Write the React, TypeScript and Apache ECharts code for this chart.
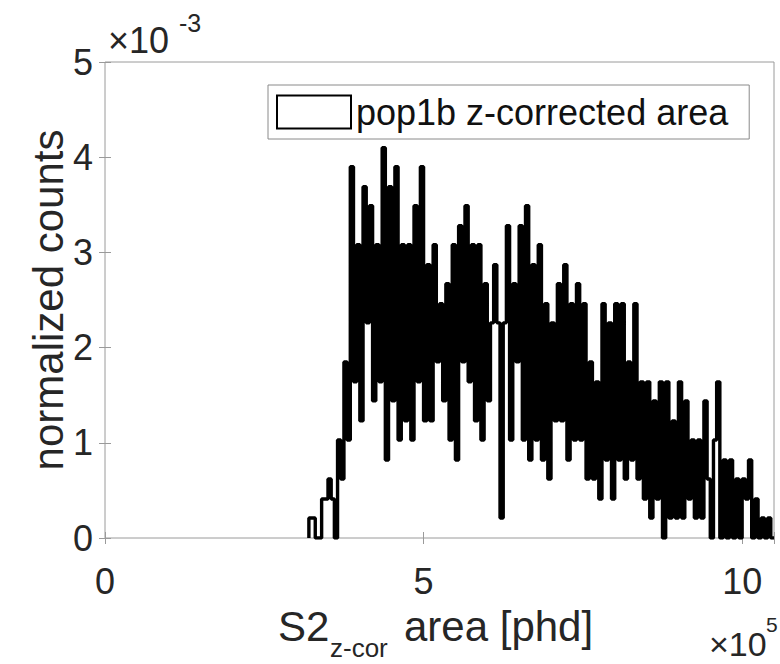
import React, { useEffect, useRef } from 'react';
import * as echarts from 'echarts';

// Histogram (stairs) of normalized counts, values in units of 1e-3
const BIN_START = 320000; // phd
const BIN_WIDTH = 5000; // phd
const COUNTS_E3 = [
  0.21, 0.21, 0, 0, 0.41, 0.41, 0.62, 0.41, 0, 1.03,
  0.62, 1.85, 1.03, 3.9, 1.64, 3.08, 1.23, 3.69, 2.26, 3.49,
  1.44, 3.08, 1.64, 4.1, 0.82, 3.69, 1.44, 3.9, 1.03, 3.08,
  1.23, 3.08, 1.03, 3.49, 1.64, 3.9, 1.23, 2.87, 1.23, 3.08,
  1.85, 2.46, 1.44, 2.67, 1.03, 3.08, 0.82, 3.28, 1.85, 3.49,
  1.64, 3.08, 1.23, 3.08, 1.03, 2.67, 1.44, 2.26, 2.87, 2.26,
  0.21, 2.26, 3.28, 1.03, 2.67, 1.85, 3.28, 1.03, 3.49, 0.82,
  2.87, 1.03, 3.08, 0.82, 2.46, 0.62, 2.26, 1.23, 2.67, 1.23,
  2.87, 0.82, 2.46, 1.03, 2.67, 1.03, 2.46, 0.62, 1.85, 0.62,
  1.64, 0.41, 2.46, 0.82, 2.26, 0.41, 2.46, 0.82, 2.46, 0.62,
  1.85, 0.82, 2.46, 0.62, 1.64, 0.41, 1.64, 0.21, 1.44, 0.41,
  1.64, 0, 1.64, 0.21, 1.23, 0.21, 1.64, 0.21, 1.44, 0.41,
  1.03, 0.21, 1.03, 0.21, 1.44, 0.62, 0, 1.03, 1.64, 0,
  0.82, 0, 0.82, 0, 0.62, 0, 0.62, 0.41, 0.82, 0,
  0.41, 0, 0.21, 0, 0.21, 0,
];
const X_MAX = 1050000;
const X_TICK_STEP = 500000;
const Y_MAX = 0.005;
const Y_TICK_STEP = 0.001;
const SERIES_NAME = 'pop1b z-corrected area';
const Y_LABEL = 'normalized counts';

const FONT = '"Liberation Sans", Arial, Helvetica, sans-serif';
const TEXT = '#262626';
const AXIS = '#9a9a9a';

export default function App() {
  const ref = useRef<HTMLDivElement>(null);
  useEffect(() => {
    const chart = echarts.init(ref.current!, null, { renderer: 'svg' });
    const data: [number, number][] = [[BIN_START, 0]];
    COUNTS_E3.forEach((v, i) => data.push([BIN_START + i * BIN_WIDTH, v * 1e-3]));
    data.push([BIN_START + COUNTS_E3.length * BIN_WIDTH, 0]);

    const tick = { show: true, inside: true, length: 6, lineStyle: { color: AXIS, width: 1 } };
    const xBase = {
      type: 'value' as const,
      min: 0,
      max: X_MAX,
      interval: X_TICK_STEP,
      axisLine: { show: false },
      axisTick: tick,
      splitLine: { show: false },
    };
    const yBase = {
      type: 'value' as const,
      min: 0,
      max: Y_MAX,
      interval: Y_TICK_STEP,
      axisLine: { show: false },
      axisTick: tick,
      splitLine: { show: false },
    };

    chart.setOption({
      animation: false,
      backgroundColor: '#fff',
      grid: {
        show: true,
        left: 105,
        right: 6,
        top: 62,
        bottom: 126,
        borderColor: AXIS,
        borderWidth: 1,
        backgroundColor: '#fff',
      },
      xAxis: [
        {
          ...xBase,
          position: 'bottom',
          axisLabel: {
            fontSize: 36,
            fontFamily: FONT,
            color: TEXT,
            margin: 25,
            formatter: (v: number) =>
              Math.abs(v % X_TICK_STEP) < 1 ? String(Math.round(v / 1e5)) : '',
          },
        },
        { ...xBase, position: 'top', axisLabel: { show: false } },
      ],
      yAxis: [
        {
          ...yBase,
          position: 'left',
          axisLabel: {
            fontSize: 36,
            fontFamily: FONT,
            color: TEXT,
            margin: 12,
            formatter: (v: number) => String(Math.round(v * 1000)),
          },
        },
        { ...yBase, position: 'right', axisLabel: { show: false } },
      ],
      legend: {
        show: true,
        left: 268,
        top: 85,
        orient: 'horizontal',
        padding: [9, 21, 9, 8],
        borderColor: '#8a8a8a',
        borderWidth: 1,
        backgroundColor: '#fff',
        itemWidth: 74,
        itemHeight: 33,
        data: [{ name: SERIES_NAME, icon: 'rect' }],
        itemStyle: { color: '#fff', borderColor: '#000', borderWidth: 2 },
        textStyle: { fontSize: 36, fontFamily: FONT, color: '#111' },
      },
      series: [
        {
          name: SERIES_NAME,
          type: 'line',
          step: 'end',
          showSymbol: false,
          symbol: 'none',
          data,
          lineStyle: { color: '#000', width: 3.4 },
          itemStyle: { color: '#000' },
          clip: true,
        },
      ],
      graphic: [
        { type: 'text', x: 108, y: 40, style: { text: '×10', fontSize: 36, fontFamily: FONT, fill: TEXT, align: 'left', verticalAlign: 'middle' } },
        { type: 'text', x: 179, y: 23, style: { text: '-3', fontSize: 25, fontFamily: FONT, fill: TEXT, align: 'left', verticalAlign: 'middle' } },
        { type: 'text', x: 48, y: 300, rotation: Math.PI / 2, style: { text: Y_LABEL, fontSize: 42, fontFamily: FONT, fill: TEXT, align: 'center', verticalAlign: 'middle' } },
        { type: 'text', x: 278, y: 626, style: { text: 'S2', fontSize: 42, fontFamily: FONT, fill: TEXT, align: 'left', verticalAlign: 'middle' } },
        { type: 'text', x: 330, y: 648, style: { text: 'z-cor', fontSize: 26, fontFamily: FONT, fill: TEXT, align: 'left', verticalAlign: 'middle' } },
        { type: 'text', x: 404, y: 626, style: { text: 'area [phd]', fontSize: 42, fontFamily: FONT, fill: TEXT, align: 'left', verticalAlign: 'middle' } },
        { type: 'text', x: 709, y: 644, style: { text: '×10', fontSize: 34, fontFamily: FONT, fill: TEXT, align: 'left', verticalAlign: 'middle' } },
        { type: 'text', x: 766, y: 624, style: { text: '5', fontSize: 21, fontFamily: FONT, fill: TEXT, align: 'left', verticalAlign: 'middle' } },
      ],
    });
    return () => chart.dispose();
  }, []);
  return <div ref={ref} style={{ position: 'fixed', left: 0, top: 0, width: 780, height: 664 }} />;
}
